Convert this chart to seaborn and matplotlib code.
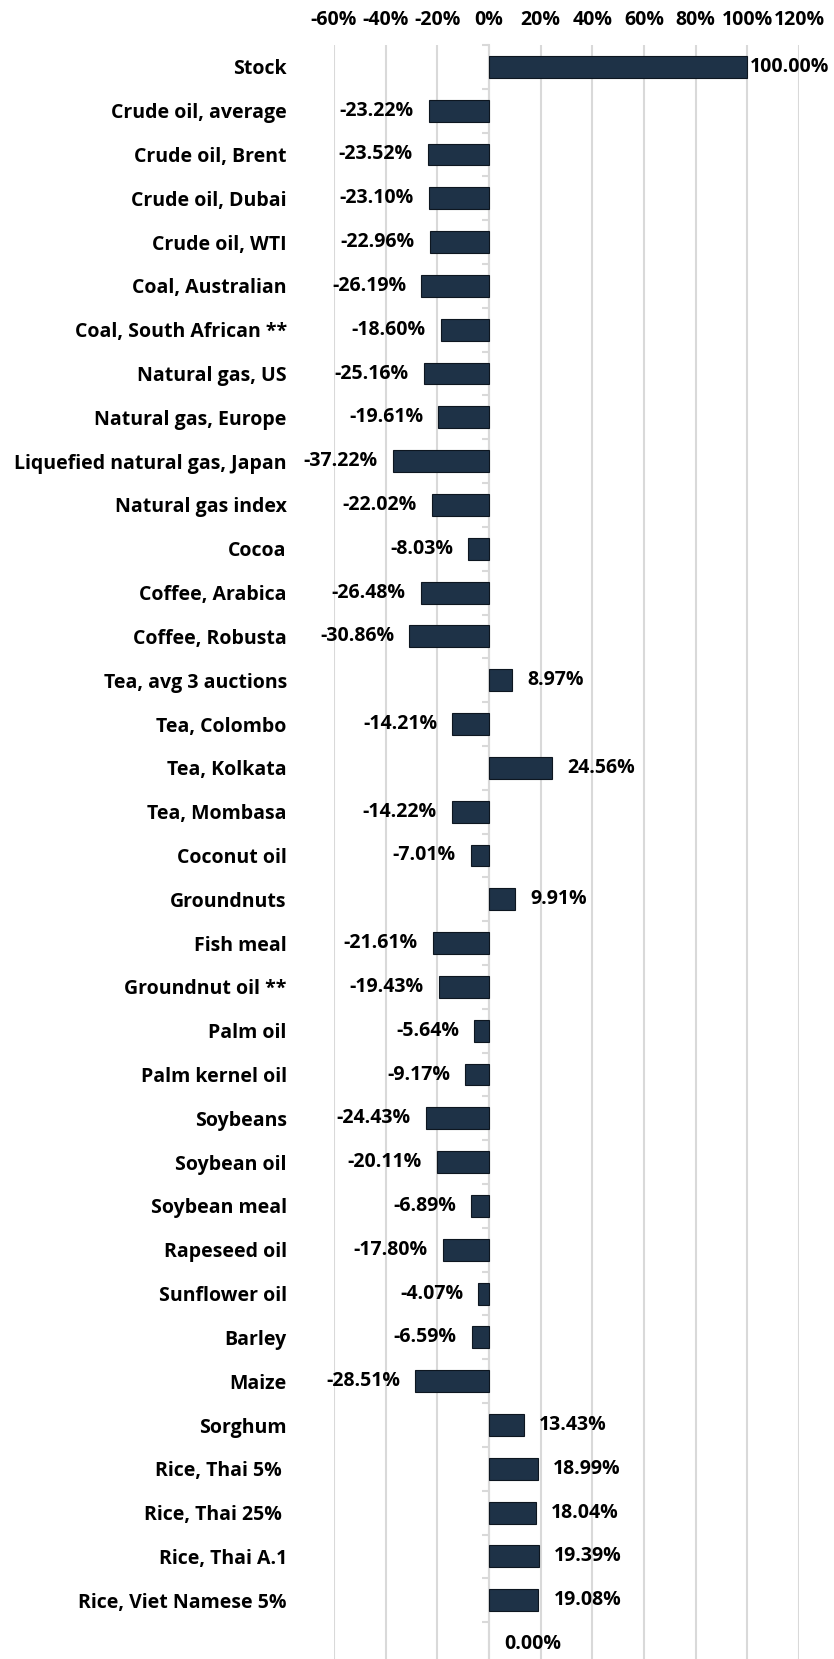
import matplotlib
matplotlib.use("Agg")
import matplotlib.pyplot as plt
import seaborn as sns
from matplotlib.ticker import FuncFormatter

# Commodity price change vs. stock
categories = [
    "Stock", "Crude oil, average", "Crude oil, Brent", "Crude oil, Dubai",
    "Crude oil, WTI", "Coal, Australian", "Coal, South African **",
    "Natural gas, US", "Natural gas, Europe", "Liquefied natural gas, Japan",
    "Natural gas index", "Cocoa", "Coffee, Arabica", "Coffee, Robusta",
    "Tea, avg 3 auctions", "Tea, Colombo", "Tea, Kolkata", "Tea, Mombasa",
    "Coconut oil", "Groundnuts", "Fish meal", "Groundnut oil **", "Palm oil",
    "Palm kernel oil", "Soybeans", "Soybean oil", "Soybean meal",
    "Rapeseed oil", "Sunflower oil", "Barley", "Maize", "Sorghum",
    "Rice, Thai 5% ", "Rice, Thai 25% ", "Rice, Thai A.1",
    "Rice, Viet Namese 5%", "",
]
values = [
    100.00, -23.22, -23.52, -23.10, -22.96, -26.19, -18.60, -25.16, -19.61,
    -37.22, -22.02, -8.03, -26.48, -30.86, 8.97, -14.21, 24.56, -14.22,
    -7.01, 9.91, -21.61, -19.43, -5.64, -9.17, -24.43, -20.11, -6.89,
    -17.80, -4.07, -6.59, -28.51, 13.43, 18.99, 18.04, 19.39, 19.08, 0.00,
]
xticks = [-60, -40, -20, 0, 20, 40, 60, 80, 100, 120]

bar_color = "#1e3247"
grid_color = "#d9d9d9"
fs = 14

plt.rcParams["font.family"] = ["Open Sans", "DejaVu Sans"]
plt.rcParams["font.weight"] = "bold"

fig = plt.figure(figsize=(8.34, 16.59), dpi=100)
ax = fig.add_axes([0.4005, -0.0042, 0.5575, 0.9771])

sns.barplot(x=values, y=categories, orient="h", color=bar_color,
            edgecolor="#0d1620", linewidth=0.8, width=0.5, saturation=1,
            ax=ax)
# no outline on empty bars
for patch in ax.patches:
    if patch.get_width() == 0:
        patch.set_linewidth(0)

ax.set_xlim(-60, 120)
ax.set_ylim(len(categories) - 0.5, -0.5)
ax.set_xticks(xticks)
ax.xaxis.set_major_formatter(FuncFormatter(lambda v, p: f"{v:.0f}%"))
ax.xaxis.tick_top()
ax.tick_params(axis="x", length=0, pad=11, labelsize=fs)
ax.tick_params(axis="y", length=0, pad=34, labelsize=fs)
for lab in ax.get_xticklabels() + ax.get_yticklabels():
    lab.set_fontweight("bold")
ax.set_xlabel("")
ax.set_ylabel("")
ax.grid(axis="x", color=grid_color, linewidth=1.5)
ax.grid(axis="y", visible=False)
ax.set_axisbelow(True)
for s in ax.spines.values():
    s.set_visible(False)

# category axis drawn at zero
zero_axis = ax.secondary_yaxis(60 / 180)
zero_axis.set_yticks([i - 0.5 for i in range(len(categories) + 1)])
zero_axis.set_yticklabels([])
zero_axis.tick_params(length=5, color=grid_color, width=1.5)
zero_axis.spines["left"].set_color(grid_color)
zero_axis.spines["left"].set_linewidth(1.5)

# value labels
for i, v in enumerate(values):
    if v >= 0:
        off = 2 if v > 90 else 11
        ax.annotate(f"{v:.2f}%", (v, i), xytext=(off, 0),
                    textcoords="offset points", ha="left", va="center",
                    fontsize=fs, fontweight="bold")
    else:
        ax.annotate(f"{v:.2f}%", (v, i), xytext=(-11, 0),
                    textcoords="offset points", ha="right", va="center",
                    fontsize=fs, fontweight="bold")

plt.savefig("out.png", dpi=100, facecolor="white")
